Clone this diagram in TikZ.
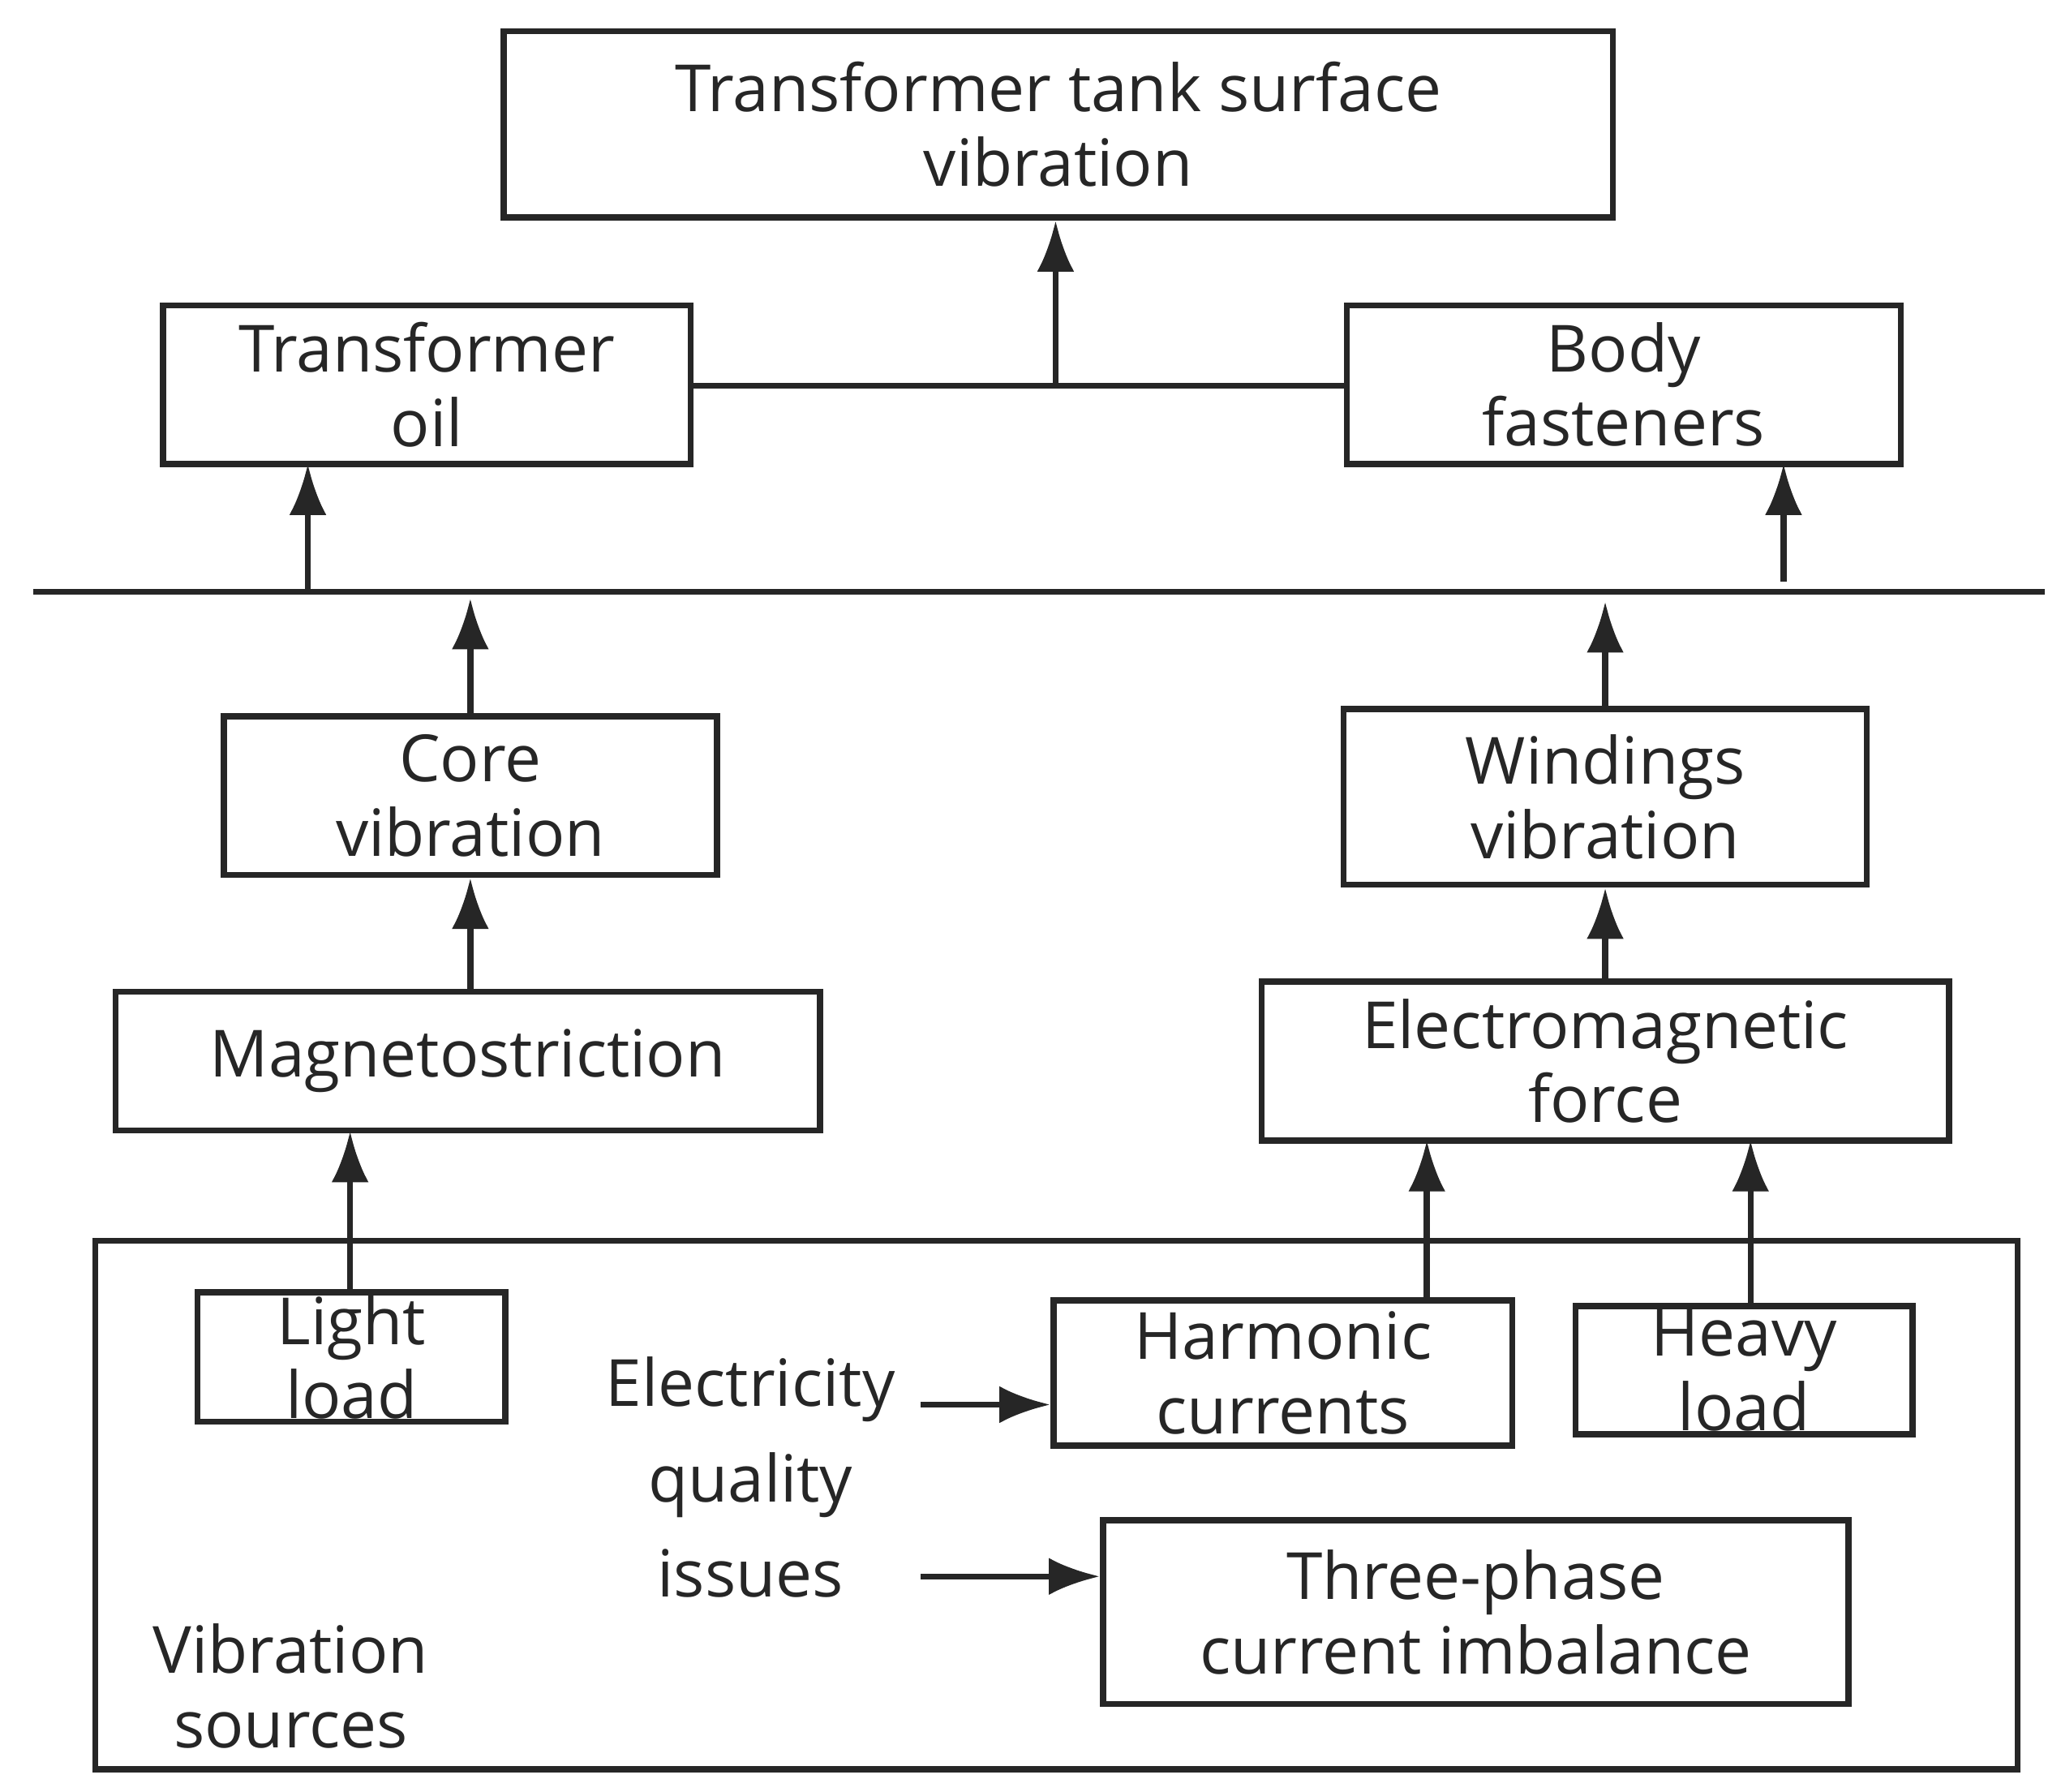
\documentclass[tikz,border=0pt]{standalone}
\usepackage{fontspec}
\setmainfont{Open Sans}
\usetikzlibrary{positioning,arrows.meta}
\begin{document}
\begin{tikzpicture}[x=0.01cm,y=-0.01cm,>=latex,
    box/.style={draw=black!85,line width=1.3pt,align=center,inner sep=0pt,
      font=\fontsize{14}{16}\selectfont,text=black!85},
    lbl/.style={align=center,inner sep=0pt,font=\fontsize{14}{16}\selectfont,text=black!85},
    link/.style={draw=black!85,line width=1.3pt},
    up/.style={link,-{Latex[length=11pt,width=8pt]}}]
    \useasboundingbox (0,0) rectangle (1560,1356) ;
    % boxes
    \node [box,minimum width=8.39cm,minimum height=1.41cm] (tank) at (801,94) {Transformer tank surface\\vibration} ;
    \node [box,minimum width=3.99cm,minimum height=1.2cm] (oil) at (323,291) {Transformer\\oil} ;
    \node [box,minimum width=4.19cm,minimum height=1.2cm] (fast) at (1229,291) {Body\\fasteners} ;
    \node [box,minimum width=3.73cm,minimum height=1.2cm] (core) at (356,602) {Core\\vibration} ;
    \node [box,minimum width=3.96cm,minimum height=1.33cm] (wind) at (1215,603) {Windings\\vibration} ;
    \node [box,minimum width=5.33cm,minimum height=1.05cm] (mag) at (354,803) {Magnetostriction} ;
    \node [box,minimum width=5.2cm,minimum height=1.2cm] (emf) at (1215,803) {Electromagnetic\\force} ;
    \draw [link] (72,939) rectangle (1527,1339) ;
    \node [box,minimum width=2.33cm,minimum height=0.98cm] (light) at (266,1027) {Light\\load} ;
    \node [box,minimum width=3.47cm,minimum height=1.1cm] (harm) at (971,1039) {Harmonic\\currents} ;
    \node [box,minimum width=2.55cm,minimum height=0.97cm] (heavy) at (1320,1037) {Heavy\\load} ;
    \node [box,minimum width=5.64cm,minimum height=1.39cm] (three) at (1117,1220) {Three-phase\\current imbalance} ;
    \node [lbl,font=\fontsize{14}{20.5}\selectfont] (elec) at (568,1118) {Electricity\\quality\\issues} ;
    \node [lbl] (src) at (220,1276) {Vibration\\sources} ;
    % connectors
    \coordinate (mid) at (799,292) ;
    \coordinate (ql) at (697,1063) ;
    \coordinate (qr) at (697,1193) ;
    \draw [link] (25,448) -- (1548,448) ;
    \draw [link] (oil.east |- mid) -- (fast.west |- mid) ;
    \draw [up] (mid) -- (mid |- tank.south) ;
    \draw [up] (233,448) -- (233,351) ;
    \draw [up] (1350,440) -- (1350,351) ;
    \draw [up] (core.north) -- ++(0,-87) ;
    \draw [up] (wind.north) -- ++(0,-79) ;
    \draw [up] (mag.north -| core) -- (core.south) ;
    \draw [up] (emf.north -| wind) -- (wind.south) ;
    \draw [up] (light.north) ++(-1,0) -- (265,856) ;
    \draw [up] (1080,984) -- (1080,863) ;
    \draw [up] (1325,989) -- (1325,863) ;
    \draw [up] (ql) -- (ql -| harm.west) ;
    \draw [up] (qr) -- (qr -| three.west) ;
\end{tikzpicture}
\end{document}
